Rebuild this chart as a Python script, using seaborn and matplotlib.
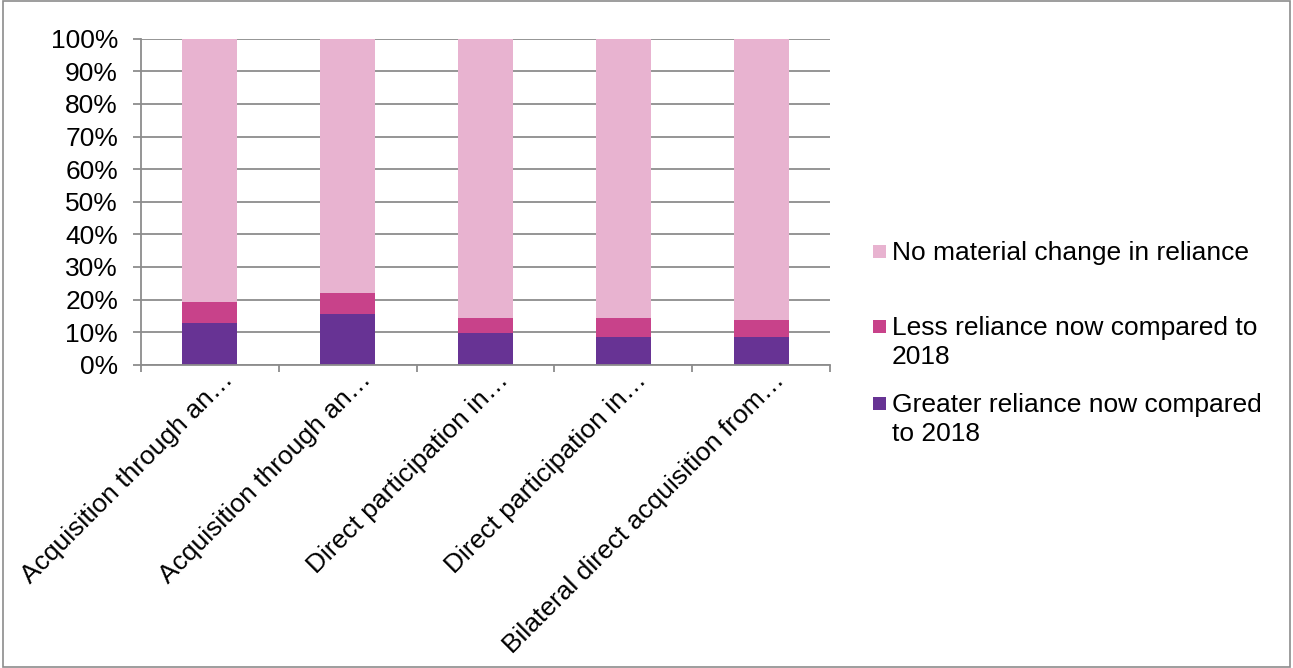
import matplotlib
matplotlib.use("Agg")
import matplotlib.pyplot as plt
import seaborn as sns
import pandas as pd
import numpy as np
from matplotlib.patches import Rectangle
from matplotlib.ticker import PercentFormatter

sns.set_theme(style="white")
plt.rcParams['font.family'] = ['Liberation Sans', 'DejaVu Sans']

categories = ["Acquisition through an…", "Acquisition through an…",
              "Direct participation in…", "Direct participation in…",
              "Bilateral direct acquisition from…"]
greater = [12.9, 15.7, 9.8, 8.5, 8.5]
less = [6.4, 6.4, 4.6, 5.9, 5.2]
no_change = [80.7, 77.9, 85.6, 85.6, 86.3]

series_names = ["No material change in reliance",
                "Less reliance now compared to\n2018",
                "Greater reliance now compared\nto 2018"]
colors = ["#E8B3D0", "#C8428A", "#673394"]

FS = 19

pos = list(range(len(categories)))
df = pd.DataFrame({"pos": pos, "greater": greater, "less": less, "none": no_change})
df["c_greater"] = df["greater"]
df["c_less"] = df["greater"] + df["less"]
df["c_none"] = df["c_less"] + df["none"]

fig = plt.figure(figsize=(12.93, 6.68), dpi=100)
ax = fig.add_axes([0.109, 0.454, 0.533, 0.488])

grid_c = "#8C8C8C"
for col, color in zip(["c_none", "c_less", "c_greater"], colors):
    sns.barplot(data=df, x="pos", y=col, color=color, width=0.4,
                saturation=1, ax=ax, order=pos, linewidth=0)

ax.set_ylim(0, 100)
ax.set_xlim(-0.5, len(categories) - 0.5)
ax.set_yticks(np.arange(0, 101, 10))
ax.yaxis.set_major_formatter(PercentFormatter(decimals=0))
ax.set_xlabel("")
ax.set_ylabel("")
ax.yaxis.grid(True, color=grid_c, linewidth=1.3)
ax.set_axisbelow(True)
for s in ["top", "right"]:
    ax.spines[s].set_visible(False)
for s in ["left", "bottom"]:
    ax.spines[s].set_color(grid_c)
    ax.spines[s].set_linewidth(1.3)

ax.tick_params(axis="y", which="major", left=True, length=6, width=1.3,
               color=grid_c, labelsize=FS, pad=10.5, labelcolor="black")
ax.set_xticks(pos)
ax.set_xticklabels(categories, rotation=45, ha="right",
                   rotation_mode="anchor", fontsize=FS, color="black")
ax.tick_params(axis="x", which="major", bottom=False, pad=4)
ax.set_xticks(np.arange(-0.5, len(categories), 1), minor=True)
ax.tick_params(axis="x", which="minor", bottom=True, length=5, width=1.3,
               color=grid_c)
for lbl in ax.get_xticklabels():
    lbl.set_transform(lbl.get_transform() + matplotlib.transforms.ScaledTranslation(0.11, 0.11, fig.dpi_scale_trans))

# Legend (manual, marker aligned with the first line of each label)
W, H = 1293, 668
leg_y = [252, 327, 404]
for name, color, yy in zip(series_names, colors, leg_y):
    fig.patches.append(Rectangle((873 / W, 1 - (yy + 6) / H), 13 / W, 13 / H,
                                 transform=fig.transFigure, facecolor=color,
                                 edgecolor="none"))
    fig.text(892 / W, 1 - (yy - 11) / H, name, fontsize=FS, va="top",
             ha="left", color="black", linespacing=1.25)

# outer border
fig.patches.append(Rectangle((0.002, 0.002), 0.996, 0.996, transform=fig.transFigure,
                             facecolor="none", edgecolor="#8C8C8C", linewidth=1.2))

fig.savefig("out.png", dpi=100, facecolor="white")
